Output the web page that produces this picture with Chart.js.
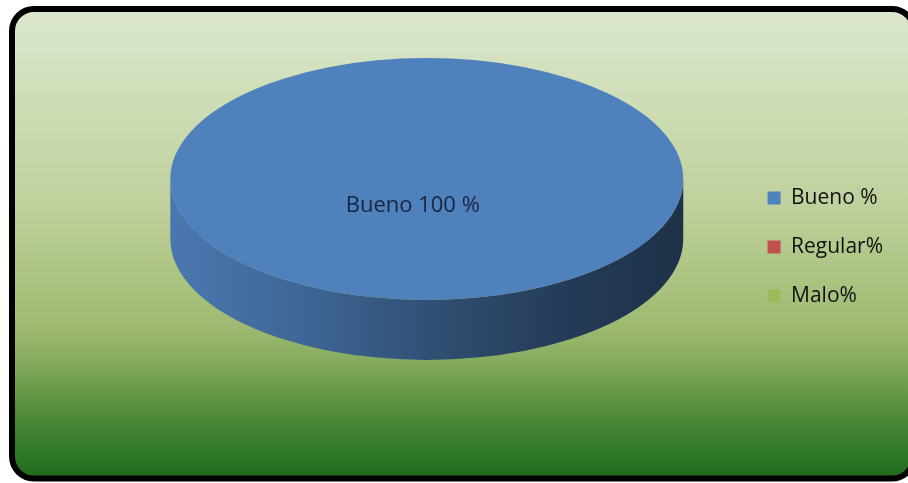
<!DOCTYPE html>
<html>
<head>
<meta charset="utf-8">
<script src="https://cdn.jsdelivr.net/npm/chart.js@4.4.1/dist/chart.umd.min.js"></script>
<style>
  html, body { margin: 0; padding: 0; background: #ffffff; }
  #wrap { width: 908px; height: 483px; position: relative; }
</style>
</head>
<body>
<div id="wrap"><canvas id="chart"></canvas></div>
<script>
// Legend entries, short names for the slice labels, and the share of each rating
const categories = ['Bueno %', 'Regular%', 'Malo%'];
const shortNames = ['Bueno', 'Regular', 'Malo'];
const values = [100, 0, 0];
const sliceColors = ['#4f81bd', '#c0504d', '#9bbb59'];

function shade(hex, f) {
  const n = parseInt(hex.slice(1), 16);
  const r = Math.round(((n >> 16) & 255) * f);
  const g = Math.round(((n >> 8) & 255) * f);
  const b = Math.round((n & 255) * f);
  return `rgb(${r},${g},${b})`;
}

// Rounded frame with a light-to-dark green fill behind the chart
const framePlugin = {
  id: 'frame',
  beforeDraw(chart) {
    const { ctx, width, height } = chart;
    ctx.save();
    ctx.fillStyle = '#ffffff';
    ctx.fillRect(0, 0, width, height);
    const x = 12, y = 9, w = 902, h = 469.5, r = 22;
    const g = ctx.createLinearGradient(0, y, 0, y + h);
    g.addColorStop(0.000, '#dce7cf');
    g.addColorStop(0.215, '#cddcb4');
    g.addColorStop(0.428, '#bed09b');
    g.addColorStop(0.571, '#acc482');
    g.addColorStop(0.677, '#9eba70');
    g.addColorStop(0.748, '#87ac5f');
    g.addColorStop(0.818, '#669846');
    g.addColorStop(0.890, '#438434');
    g.addColorStop(0.960, '#2a7524');
    g.addColorStop(1.000, '#1f6b1c');
    ctx.beginPath();
    ctx.roundRect(x, y, w, h, r);
    ctx.fillStyle = g;
    ctx.fill();
    ctx.lineWidth = 6;
    ctx.strokeStyle = '#000000';
    ctx.stroke();
    ctx.restore();
  }
};

// Tilts the pie back about its top edge and gives it a shaded rim
const pie3dPlugin = {
  id: 'pie3d',
  beforeDatasetsDraw(chart, args, opts) {
    const meta = chart.getDatasetMeta(0);
    if (!meta.data.length) return;
    const a0 = meta.data[0];
    const cx = a0.x, cy = a0.y, R = a0.outerRadius;
    const top = cy - R;
    const { ctx } = chart;
    ctx.save();
    ctx.translate(cx, top);
    ctx.scale(opts.stretchX, opts.tiltY);
    ctx.translate(-cx, -top);
    const dz = opts.depth / opts.tiltY;
    meta.data.forEach((arc, i) => {
      if (!values[i]) return;
      const s = Math.max(arc.startAngle, 0);
      const e = Math.min(arc.endAngle, Math.PI);
      if (e <= s) return;
      const base = sliceColors[i];
      const g = ctx.createLinearGradient(cx - R, 0, cx + R, 0);
      g.addColorStop(0.00, shade(base, 0.93));
      g.addColorStop(0.25, shade(base, 0.80));
      g.addColorStop(0.50, shade(base, 0.62));
      g.addColorStop(0.75, shade(base, 0.47));
      g.addColorStop(1.00, shade(base, 0.38));
      ctx.beginPath();
      ctx.arc(cx, cy, R, s, e);
      ctx.arc(cx, cy + dz, R, e, s, true);
      ctx.closePath();
      ctx.fillStyle = g;
      ctx.fill();
    });
  },
  afterDatasetsDraw(chart, args, opts) {
    const { ctx } = chart;
    ctx.restore();
    const meta = chart.getDatasetMeta(0);
    if (!meta.data.length) return;
    const a0 = meta.data[0];
    const R = a0.outerRadius;
    const top = a0.y - R;
    const faceY = top + R * opts.tiltY;
    ctx.save();
    ctx.font = opts.labelFont;
    ctx.fillStyle = opts.labelColor;
    ctx.textAlign = 'center';
    ctx.textBaseline = 'middle';
    values.forEach((v, i) => {
      if (!v) return;
      ctx.fillText(`${shortNames[i]} ${v} %`, a0.x + opts.labelDX, faceY + opts.labelDY);
    });
    ctx.restore();
  }
};

new Chart(document.getElementById('chart'), {
  type: 'pie',
  data: {
    labels: categories,
    datasets: [{
      data: values,
      backgroundColor: sliceColors,
      borderWidth: 0,
      hoverOffset: 0,
      offset: 0
    }]
  },
  options: {
    responsive: true,
    maintainAspectRatio: false,
    animation: false,
    events: [],
    rotation: 0,
    layout: { padding: { left: 114, right: 15, top: 58, bottom: 47 } },
    plugins: {
      tooltip: { enabled: false },
      legend: {
        position: 'right',
        align: 'center',
        labels: {
          boxWidth: 13,
          boxHeight: 13,
          padding: 28,
          color: '#111111',
          font: { family: 'Open Sans', size: 21 }
        }
      },
      pie3d: {
        stretchX: 1.357,
        tiltY: 0.640,
        depth: 60,
        labelDX: -14,
        labelDY: 27,
        labelFont: '22px "Open Sans"',
        labelColor: '#19253f'
      }
    }
  },
  plugins: [framePlugin, pie3dPlugin]
});
</script>
</body>
</html>
